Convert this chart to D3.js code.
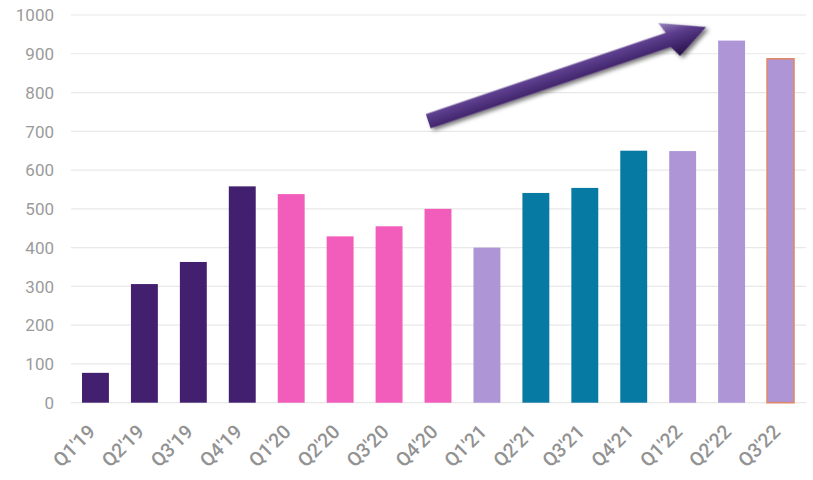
<!DOCTYPE html>
<html>
<head>
<meta charset="utf-8">
<script src="https://cdn.jsdelivr.net/npm/d3@7/dist/d3.min.js"></script>
<style>
  html, body { margin: 0; padding: 0; background: #ffffff; }
  svg { display: block; }
</style>
</head>
<body>
<div id="chart"></div>
<script>
const categories = ["Q1'19","Q2'19","Q3'19","Q4'19","Q1'20","Q2'20","Q3'20","Q4'20","Q1'21","Q2'21","Q3'21","Q4'21","Q1'22","Q2'22","Q3'22"];
const values = [77, 306, 363, 558, 538, 429, 455, 500, 400, 541, 554, 650, 649, 934, 887];
const groups = ["2019","2019","2019","2019","2020","2020","2020","2020","light","2021","2021","2021","light","light","light"];
const groupColors = { "2019": "#42206f", "2020": "#f25cba", "2021": "#067aa3", "light": "#ad95d6" };
const yTicks = [0, 100, 200, 300, 400, 500, 600, 700, 800, 900, 1000];
const highlighted = ["Q3'22"];
// annotation arrow: start/end in data terms (category, offset fraction of step, value)
const arrowFrom = { cat: "Q4'20", dx: -0.2, value: 726 };
const arrowTo = { cat: "Q2'22", dx: -0.52, value: 969 };

const W = 813, H = 480;
const svg = d3.select("#chart").append("svg").attr("width", W).attr("height", H);

const x = d3.scaleBand().domain(categories).range([71, 805]).paddingInner(0.45).paddingOuter(0.225);
const y = d3.scaleLinear().domain([0, 1000]).range([402.7, 15]);

// gridlines
svg.append("g").selectAll("line").data(yTicks).join("line")
  .attr("x1", 71).attr("x2", 806)
  .attr("y1", d => y(d)).attr("y2", d => y(d))
  .attr("stroke", "#e8e8e8").attr("stroke-width", 1.2);

// y axis labels
const yAxis = d3.axisLeft(y).tickValues(yTicks).tickFormat(d3.format("d")).tickSize(0).tickPadding(0);
const yg = svg.append("g").attr("transform", "translate(54,0)").call(yAxis);
yg.select(".domain").remove();
yg.selectAll("text").attr("font-family", "Roboto, sans-serif").attr("font-size", 17)
  .attr("fill", "#9b9b9b").attr("dy", "0.34em");

// bars
svg.append("g").selectAll("rect").data(categories).join("rect")
  .attr("x", d => x(d)).attr("width", x.bandwidth())
  .attr("y", (d, i) => y(values[i]))
  .attr("height", (d, i) => y(0) - y(values[i]))
  .attr("fill", (d, i) => groupColors[groups[i]])
  .attr("stroke", d => highlighted.includes(d) ? "#e0896a" : "none")
  .attr("stroke-width", 1.6);

// x axis labels
const xAxis = d3.axisBottom(x).tickSize(0).tickPadding(0);
const xg = svg.append("g").attr("transform", "translate(0,0)").call(xAxis);
xg.select(".domain").remove();
xg.selectAll("text")
  .attr("font-family", "Roboto, sans-serif").attr("font-size", 19.5).attr("font-weight", 500)
  .attr("fill", "#929292")
  .attr("text-anchor", "end")
  .attr("x", 0).attr("y", 0).attr("dy", 0)
  .attr("transform", "translate(1,433) rotate(-45)");

// arrow annotation
const defs = svg.append("defs");
const p0 = [x(arrowFrom.cat) + x.bandwidth() / 2 + arrowFrom.dx * x.step(), y(arrowFrom.value)];
const p1 = [x(arrowTo.cat) + x.bandwidth() / 2 + arrowTo.dx * x.step(), y(arrowTo.value)];
const dx = p1[0] - p0[0], dy = p1[1] - p0[1];
const len = Math.hypot(dx, dy);
const ang = Math.atan2(dy, dx) * 180 / Math.PI;

const grad = defs.append("linearGradient").attr("id", "arrowGrad")
  .attr("x1", 0).attr("y1", 0).attr("x2", 0).attr("y2", 1);
grad.append("stop").attr("offset", "0%").attr("stop-color", "#9a86bd");
grad.append("stop").attr("offset", "35%").attr("stop-color", "#5e3f8f");
grad.append("stop").attr("offset", "75%").attr("stop-color", "#3d2266");
grad.append("stop").attr("offset", "100%").attr("stop-color", "#24123f");

const filt = defs.append("filter").attr("id", "shadow").attr("x", "-20%").attr("y", "-50%").attr("width", "140%").attr("height", "200%");
filt.append("feDropShadow").attr("dx", 2).attr("dy", 3).attr("stdDeviation", 2)
  .attr("flood-color", "#000").attr("flood-opacity", 0.55);

const sw = 7.5, hl = 40, hw = 19;
const arrowPath = `M0,${-sw} L${len - hl},${-sw} L${len - hl - 4},${-hw} L${len},0 L${len - hl + 6},${hw} L${len - hl},${sw} L0,${sw} Z`;
svg.append("g")
  .attr("transform", `translate(${p0[0]},${p0[1]}) rotate(${ang})`)
  .append("path")
  .attr("d", arrowPath)
  .attr("fill", "url(#arrowGrad)")
  .attr("filter", "url(#shadow)");
</script>
</body>
</html>
